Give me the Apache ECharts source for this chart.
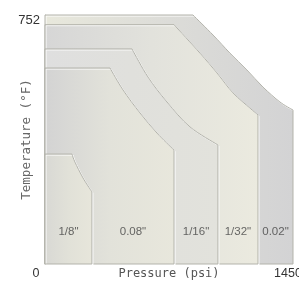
<!DOCTYPE html>
<html><head><meta charset="utf-8">
<script src="https://cdn.jsdelivr.net/npm/echarts@6/dist/echarts.min.js"></script>
<style>html,body{margin:0;padding:0;background:#fff}#c{width:299px;height:281px}</style>
</head><body><div id="c"></div>
<script>
// Region names (outermost first)
const regionNames = ['0.02"', '1/32"', '1/16"', '0.08"', '1/8"'];
// Region outlines: [pressure psi, temperature °F]
// first = top-left, second = end of flat top, ..., curve ..., last = bottom of vertical edge
const region002 = [[0,770],[883,770],[1003,708],[1104,652],[1205,600],[1301,547],[1402,501],[1480,476],[1480,0]];
const region132 = [[0,740],[770,740],[925,652],[1026,591],[1122,529],[1223,482],[1271,461],[1271,0]];
const region116 = [[0,665],[519,665],[615,578],[728,501],[865,424],[1032,368],[1032,0]];
const region008 = [[0,606],[388,606],[466,538],[567,467],[668,405],[770,352],[770,0]];
const region18  = [[0,340],[161,340],[179,315],[227,266],[280,223],[280,0]];
const regions = [region002, region132, region116, region008, region18];
// Axis ticks
const xTicks = [0, 1450];
const yTicks = [752];
const xMax = 1480, yMax = 770;
const labelTemp = 100;

const fills = [
  ['#e8e8dc', '#dcdcd8', '#d3d3d4'],
  ['#d6d6d6', '#e2e2dc', '#ebeadf'],
  ['#dfdfdf', '#e0e0dc', '#e2e2dc'],
  ['#d3d3d3', '#e2e2da', '#e8e7dc'],
  ['#d8d8d4', '#e1e1d8', '#e7e6db']
];

function regionPath(pts) {
  // pts are pixel points; straight top, Catmull-Rom curve, straight vertical edge
  const n = pts.length;
  const f = p => p[0].toFixed(2) + ' ' + p[1].toFixed(2);
  let d = 'M' + f(pts[0]) + ' L' + f(pts[1]);
  const c = pts.slice(1, n - 1);
  for (let i = 0; i < c.length - 1; i++) {
    const p0 = c[i - 1] || c[i], p1 = c[i], p2 = c[i + 1], p3 = c[i + 2] || c[i + 1];
    const c1 = [p1[0] + (p2[0] - p0[0]) / 6, p1[1] + (p2[1] - p0[1]) / 6];
    const c2 = [p2[0] - (p3[0] - p1[0]) / 6, p2[1] - (p3[1] - p1[1]) / 6];
    d += ' C' + f(c1) + ' ' + f(c2) + ' ' + f(p2);
  }
  d += ' L' + f(pts[n - 1]);
  return d;
}

const chart = echarts.init(document.getElementById('c'), null, {renderer: 'canvas'});
const series = [{
  type: 'custom',
  silent: true,
  z: 2,
  data: regions.map((r, i) => [i]),
  renderItem: (params, api) => {
    const i = api.value(0);
    const r = regions[i];
    const pts = r.map(p => api.coord(p));
    const origin = api.coord([0, 0]);
    const d = regionPath(pts) + ' L' + origin[0] + ' ' + origin[1] + ' Z';
    return {
      type: 'path',
      z2: i,
      shape: {pathData: d},
      style: {
        fill: new echarts.graphic.LinearGradient(0, 0, 1, 0, [
          {offset: 0, color: fills[i][0]}, {offset: 0.5, color: fills[i][1]}, {offset: 1, color: fills[i][2]}]),
        stroke: '#b3b3ab', lineWidth: 1,
        shadowColor: 'rgba(255,255,255,0.95)', shadowOffsetX: 1, shadowOffsetY: 1, shadowBlur: 0
      }
    };
  }
}];
// Column labels, centred between each region's right edge and the next inner region's right edge
const rightEdge = r => r[r.length - 1][0];
const labelData = regions.map((r, i) => {
  const left = i < regions.length - 1 ? rightEdge(regions[i + 1]) : 0;
  return [(left + rightEdge(r)) / 2, labelTemp, regionNames[i]];
});
series.push({
  type: 'scatter', z: 20, symbolSize: 1, itemStyle: {color: 'rgba(0,0,0,0)'}, data: labelData, silent: true,
  label: {show: true, position: 'inside', formatter: p => p.data[2], color: '#444',
    fontSize: 11.5, fontFamily: "'Liberation Sans Narrow', 'Liberation Sans', Arial, sans-serif"}
});

chart.setOption({
  animation: false,
  backgroundColor: '#fff',
  grid: {left: 45, right: 6, top: 15, bottom: 17, containLabel: false, outerBoundsMode: 'none'},
  xAxis: {
    type: 'value', min: 0, max: xMax,
    name: 'Pressure (psi)', nameLocation: 'middle', nameGap: 4, nameMoveOverlap: false,
    nameTextStyle: {fontFamily: 'DejaVu Sans Mono', fontSize: 12, color: '#555', verticalAlign: 'top'},
    axisLine: {show: true, lineStyle: {color: '#c4c4c4'}},
    axisTick: {show: false}, splitLine: {show: false},
    axisLabel: {customValues: xTicks, margin: 3, color: '#333', fontSize: 12.5, fontFamily: "'Liberation Sans', Arial",
      formatter: v => v === 0 ? '{o|0}' : '{n|' + v + '}',
      rich: {o: {padding: [0, 18, 0, 0], fontSize: 12.5, color: '#333', fontFamily: "'Liberation Sans', Arial"},
             n: {fontSize: 12.5, color: '#333', fontFamily: "'Liberation Sans', Arial"}}}
  },
  yAxis: {
    type: 'value', min: 0, max: yMax,
    name: 'Temperature (°F)', nameLocation: 'middle', nameGap: 12, nameRotate: 90, nameMoveOverlap: false,
    nameTextStyle: {fontFamily: 'DejaVu Sans Mono', fontSize: 12.5, color: '#666'},
    axisLine: {show: true, lineStyle: {color: '#c4c4c4'}},
    axisTick: {show: false}, splitLine: {show: false},
    axisLabel: {customValues: yTicks, margin: 5, color: '#333', fontSize: 13, fontFamily: "'Liberation Sans', Arial"}
  },
  series: series
});
</script></body></html>
